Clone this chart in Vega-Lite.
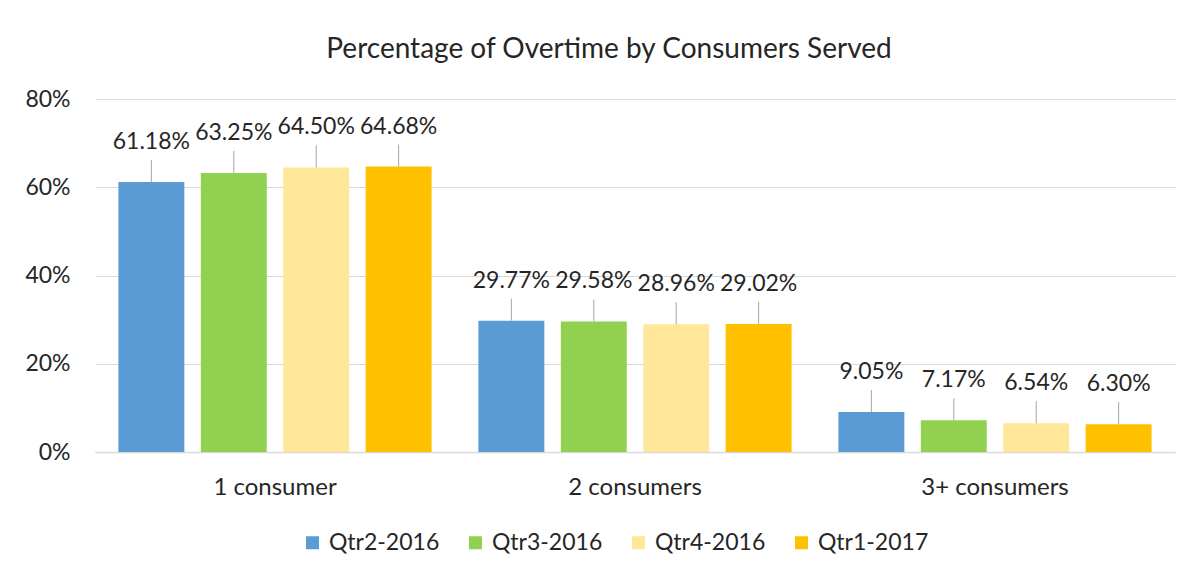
{
  "$schema": "https://vega.github.io/schema/vega-lite/v6.json",
  "width": 1080,
  "height": 353,
  "autosize": {"type": "none"},
  "padding": {"left": 95, "top": 99, "right": 29, "bottom": 128},
  "background": "white",
  "title": {"text": "Percentage of Overtime by Consumers Served", "font": "Lato", "fontSize": 28, "fontWeight": "normal", "color": "#262626", "offset": 24, "dx": -26},
  "config": {"view": {"stroke": null}, "font": "Lato"},
  "data": {"values": [
    {"group": "1 consumer", "quarter": "Qtr2-2016", "value": 0.6118},
    {"group": "1 consumer", "quarter": "Qtr3-2016", "value": 0.6325},
    {"group": "1 consumer", "quarter": "Qtr4-2016", "value": 0.6450},
    {"group": "1 consumer", "quarter": "Qtr1-2017", "value": 0.6468},
    {"group": "2 consumers", "quarter": "Qtr2-2016", "value": 0.2977},
    {"group": "2 consumers", "quarter": "Qtr3-2016", "value": 0.2958},
    {"group": "2 consumers", "quarter": "Qtr4-2016", "value": 0.2896},
    {"group": "2 consumers", "quarter": "Qtr1-2017", "value": 0.2902},
    {"group": "3+ consumers", "quarter": "Qtr2-2016", "value": 0.0905},
    {"group": "3+ consumers", "quarter": "Qtr3-2016", "value": 0.0717},
    {"group": "3+ consumers", "quarter": "Qtr4-2016", "value": 0.0654},
    {"group": "3+ consumers", "quarter": "Qtr1-2017", "value": 0.0630}
  ]},
  "encoding": {
    "x": {"field": "group", "type": "nominal", "sort": null,
      "scale": {"paddingInner": 0.13, "paddingOuter": 0.065},
      "axis": {"title": null, "labelAngle": 0, "ticks": false, "labelPadding": 23, "labelFontSize": 24, "labelColor": "#262626", "domainColor": "#d9d9d9", "domainWidth": 1.5}},
    "xOffset": {"field": "quarter", "type": "nominal", "sort": ["Qtr2-2016", "Qtr3-2016", "Qtr4-2016", "Qtr1-2017"],
      "scale": {"paddingInner": 0.2, "paddingOuter": 0}},
    "y": {"field": "value", "type": "quantitative",
      "scale": {"domain": [0, 0.8], "nice": false},
      "axis": {"title": null, "values": [0, 0.2, 0.4, 0.6, 0.8], "format": ".0%", "domain": false, "ticks": false, "gridColor": "#d9d9d9", "gridWidth": 1.2, "labelPadding": 25, "labelFontSize": 23, "labelColor": "#262626"}}
  },
  "layer": [
    {
      "mark": {"type": "bar"},
      "encoding": {
        "color": {"field": "quarter", "type": "nominal",
          "scale": {"domain": ["Qtr2-2016", "Qtr3-2016", "Qtr4-2016", "Qtr1-2017"], "range": ["#5B9BD5", "#92D050", "#FFE699", "#FFC000"]},
          "legend": {"title": null, "orient": "none", "legendX": 206, "legendY": 432, "direction": "horizontal", "symbolType": "square", "symbolSize": 169, "symbolStrokeWidth": 0, "labelFontSize": 23, "labelColor": "#262626", "labelOffset": 5, "columnPadding": 24}}
      }
    },
    {
      "mark": {"type": "rule", "color": "#a6a6a6", "strokeWidth": 1, "y2Offset": -22},
      "encoding": {"y2": {"field": "value"}}
    },
    {
      "mark": {"type": "text", "dy": -40, "fontSize": 23, "color": "#262626", "baseline": "middle"},
      "encoding": {"text": {"field": "value", "type": "quantitative", "format": ".2%"}}
    }
  ]
}
